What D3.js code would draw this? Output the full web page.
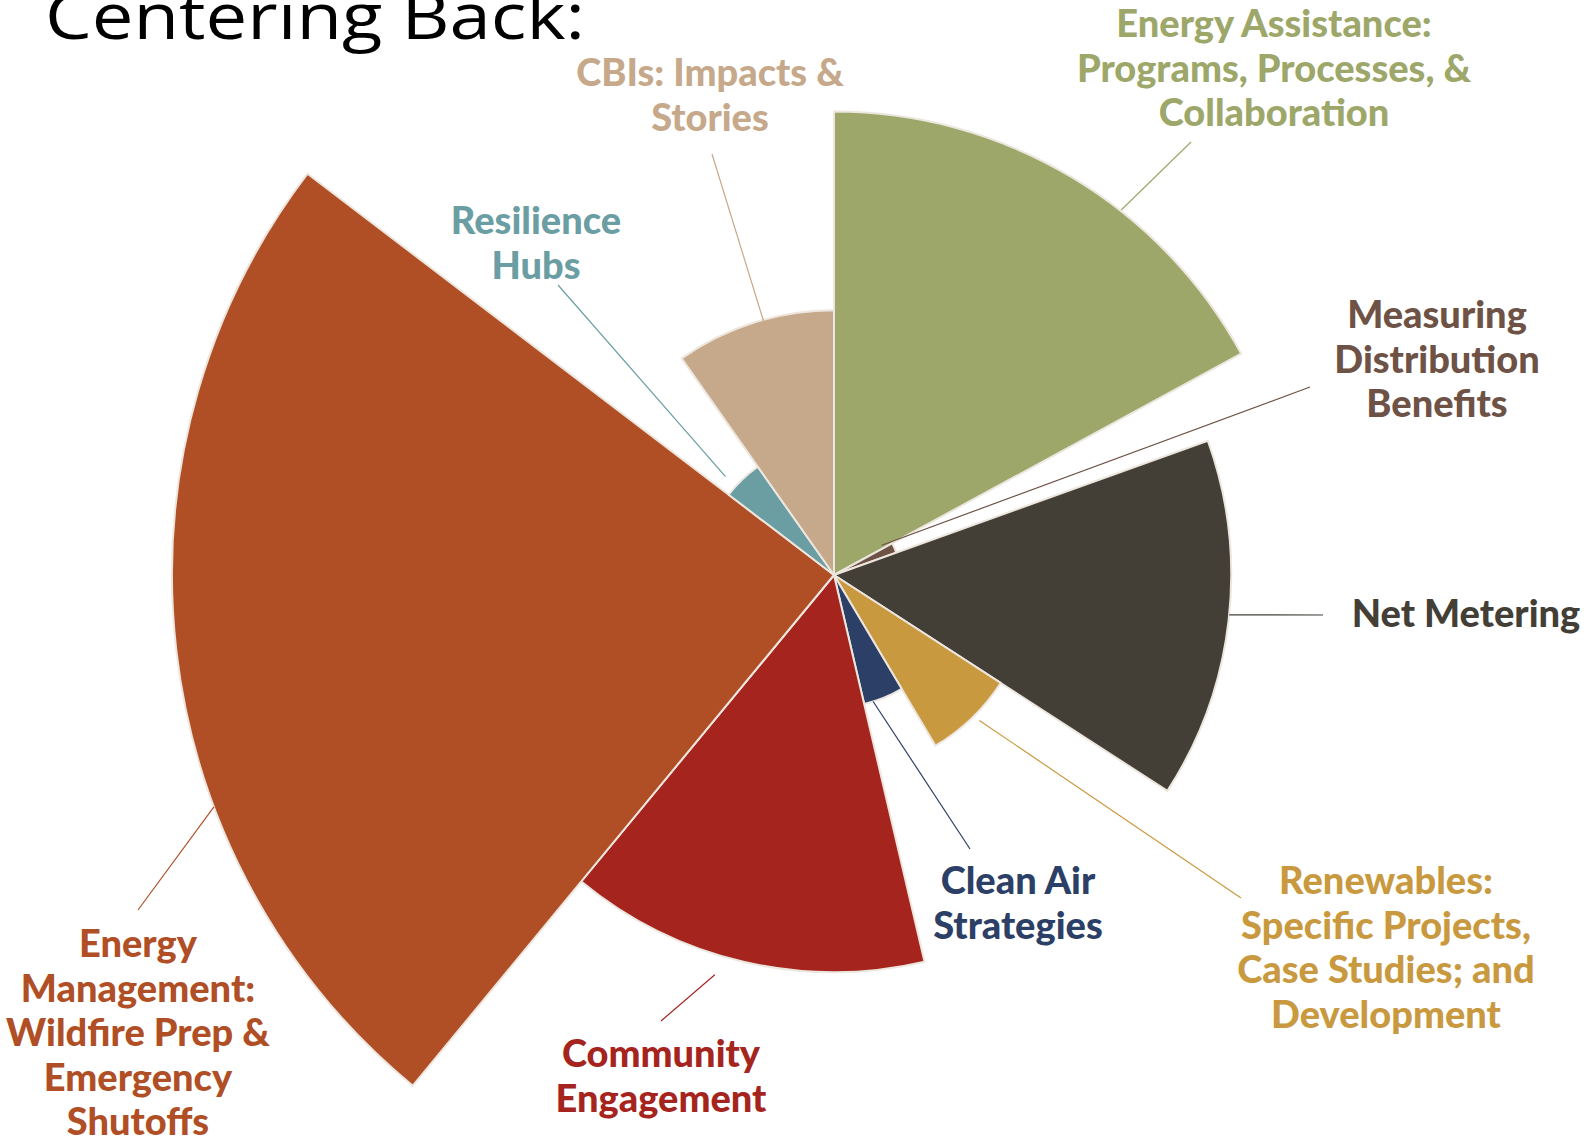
<!DOCTYPE html>
<html>
<head>
<meta charset="utf-8">
<script src="https://cdn.jsdelivr.net/npm/d3@7"></script>
<style>
  html, body { margin: 0; padding: 0; background: #ffffff; }
  svg { display: block; }
</style>
</head>
<body>
<svg id="chart" width="1588" height="1142"></svg>
<script>
// Topic counts, clockwise from 12 o'clock
const categories = [
  "Energy Assistance: Programs, Processes, & Collaboration",
  "Measuring Distribution Benefits",
  "Net Metering",
  "Renewables: Specific Projects, Case Studies; and Development",
  "Clean Air Strategies",
  "Community Engagement",
  "Energy Management: Wildfire Prep & Emergency Shutoffs",
  "Resilience Hubs",
  "CBIs: Impacts & Stories"
];
const counts = [7, 1, 6, 3, 2, 6, 10, 2, 4];
const colors = ["#9da76a", "#6e5246", "#433f37", "#c9993f", "#2c3f66", "#a5241d", "#b04f26", "#6b9ea3", "#c6a88a"];
const labelText = [
  ["Energy Assistance:", "Programs, Processes, &", "Collaboration"],
  ["Measuring", "Distribution", "Benefits"],
  ["Net Metering"],
  ["Renewables:", "Specific Projects,", "Case Studies; and", "Development"],
  ["Clean Air", "Strategies"],
  ["Community", "Engagement"],
  ["Energy", "Management:", "Wildfire Prep &", "Emergency", "Shutoffs"],
  ["Resilience", "Hubs"],
  ["CBIs: Impacts &", "Stories"]
];
const title = "Centering Back:";

// Label placement: anchor (centre x, first baseline), leader end, leader angle on the slice
const labelLayout = [
  { x: 1274, y: 37,  end: [1191, 142], angle: 38.2,  pad: 1 },
  { x: 1437, y: 328, end: [1310, 387], angle: 58,    pad: -10 },
  { x: 1466, y: 627, end: [1323, 615], angle: 95.75, pad: 0 },
  { x: 1386, y: 894, end: [1241, 898], angle: 135,   pad: 7 },
  { x: 1018, y: 894, end: [970, 849],  angle: 162.8, pad: 0 },
  { x: 661,  y: 1067, end: [661, 1021], angle: 196.6, pad: 20 },
  { x: 138,  y: 957, end: [138, 910],  angle: 249.5, pad: 0 },
  { x: 536,  y: 234, end: [558, 285],  angle: 312.2, pad: 14 },
  { x: 710,  y: 86,  end: [712, 154],  angle: 344.5, pad: -2 }
];

const cx = 834, cy = 575;
const lineHeight = 44.6;

const svg = d3.select("#chart");

// Title, partly cropped at the top edge
svg.append("text")
  .attr("x", 45)
  .attr("y", 39)
  .attr("font-family", "'Open Sans', sans-serif")
  .attr("font-size", 64)
  .attr("textLength", 540)
  .attr("lengthAdjust", "spacingAndGlyphs")
  .attr("fill", "#000")
  .text(title);

// Each slice's angle and radius both scale with its count
const rScale = d3.scaleLinear().domain([0, d3.max(counts)]).range([0, 662]);
const pie = d3.pie().sort(null).value(d => d);
const arcs = pie(counts);

const g = svg.append("g").attr("transform", `translate(${cx},${cy})`);

g.selectAll("path.slice")
  .data(arcs)
  .join("path")
  .attr("class", "slice")
  .attr("d", d => d3.arc().innerRadius(0).outerRadius(rScale(d.data))(d))
  .attr("fill", (d, i) => colors[i])
  .attr("stroke", "#ece6de")
  .attr("stroke-width", 2)
  .attr("stroke-linejoin", "round");

// Leader lines from slice edge to label
const leaders = svg.append("g");
labelLayout.forEach((L, i) => {
  const a = L.angle * Math.PI / 180;
  const r = rScale(counts[i]) + L.pad;
  leaders.append("line")
    .attr("x1", cx + r * Math.sin(a))
    .attr("y1", cy - r * Math.cos(a))
    .attr("x2", L.end[0])
    .attr("y2", L.end[1])
    .attr("stroke", colors[i])
    .attr("stroke-width", 1.2);
});

// Category labels
const labels = svg.append("g")
  .attr("font-family", "Lato, 'Open Sans', sans-serif")
  .attr("font-weight", 900)
  .attr("font-size", 38)
  .attr("text-anchor", "middle");

labelLayout.forEach((L, i) => {
  const t = labels.append("text").attr("fill", colors[i]);
  labelText[i].forEach((line, j) => {
    t.append("tspan")
      .attr("x", L.x)
      .attr("y", L.y + j * lineHeight)
      .text(line);
  });
});
</script>
</body>
</html>
